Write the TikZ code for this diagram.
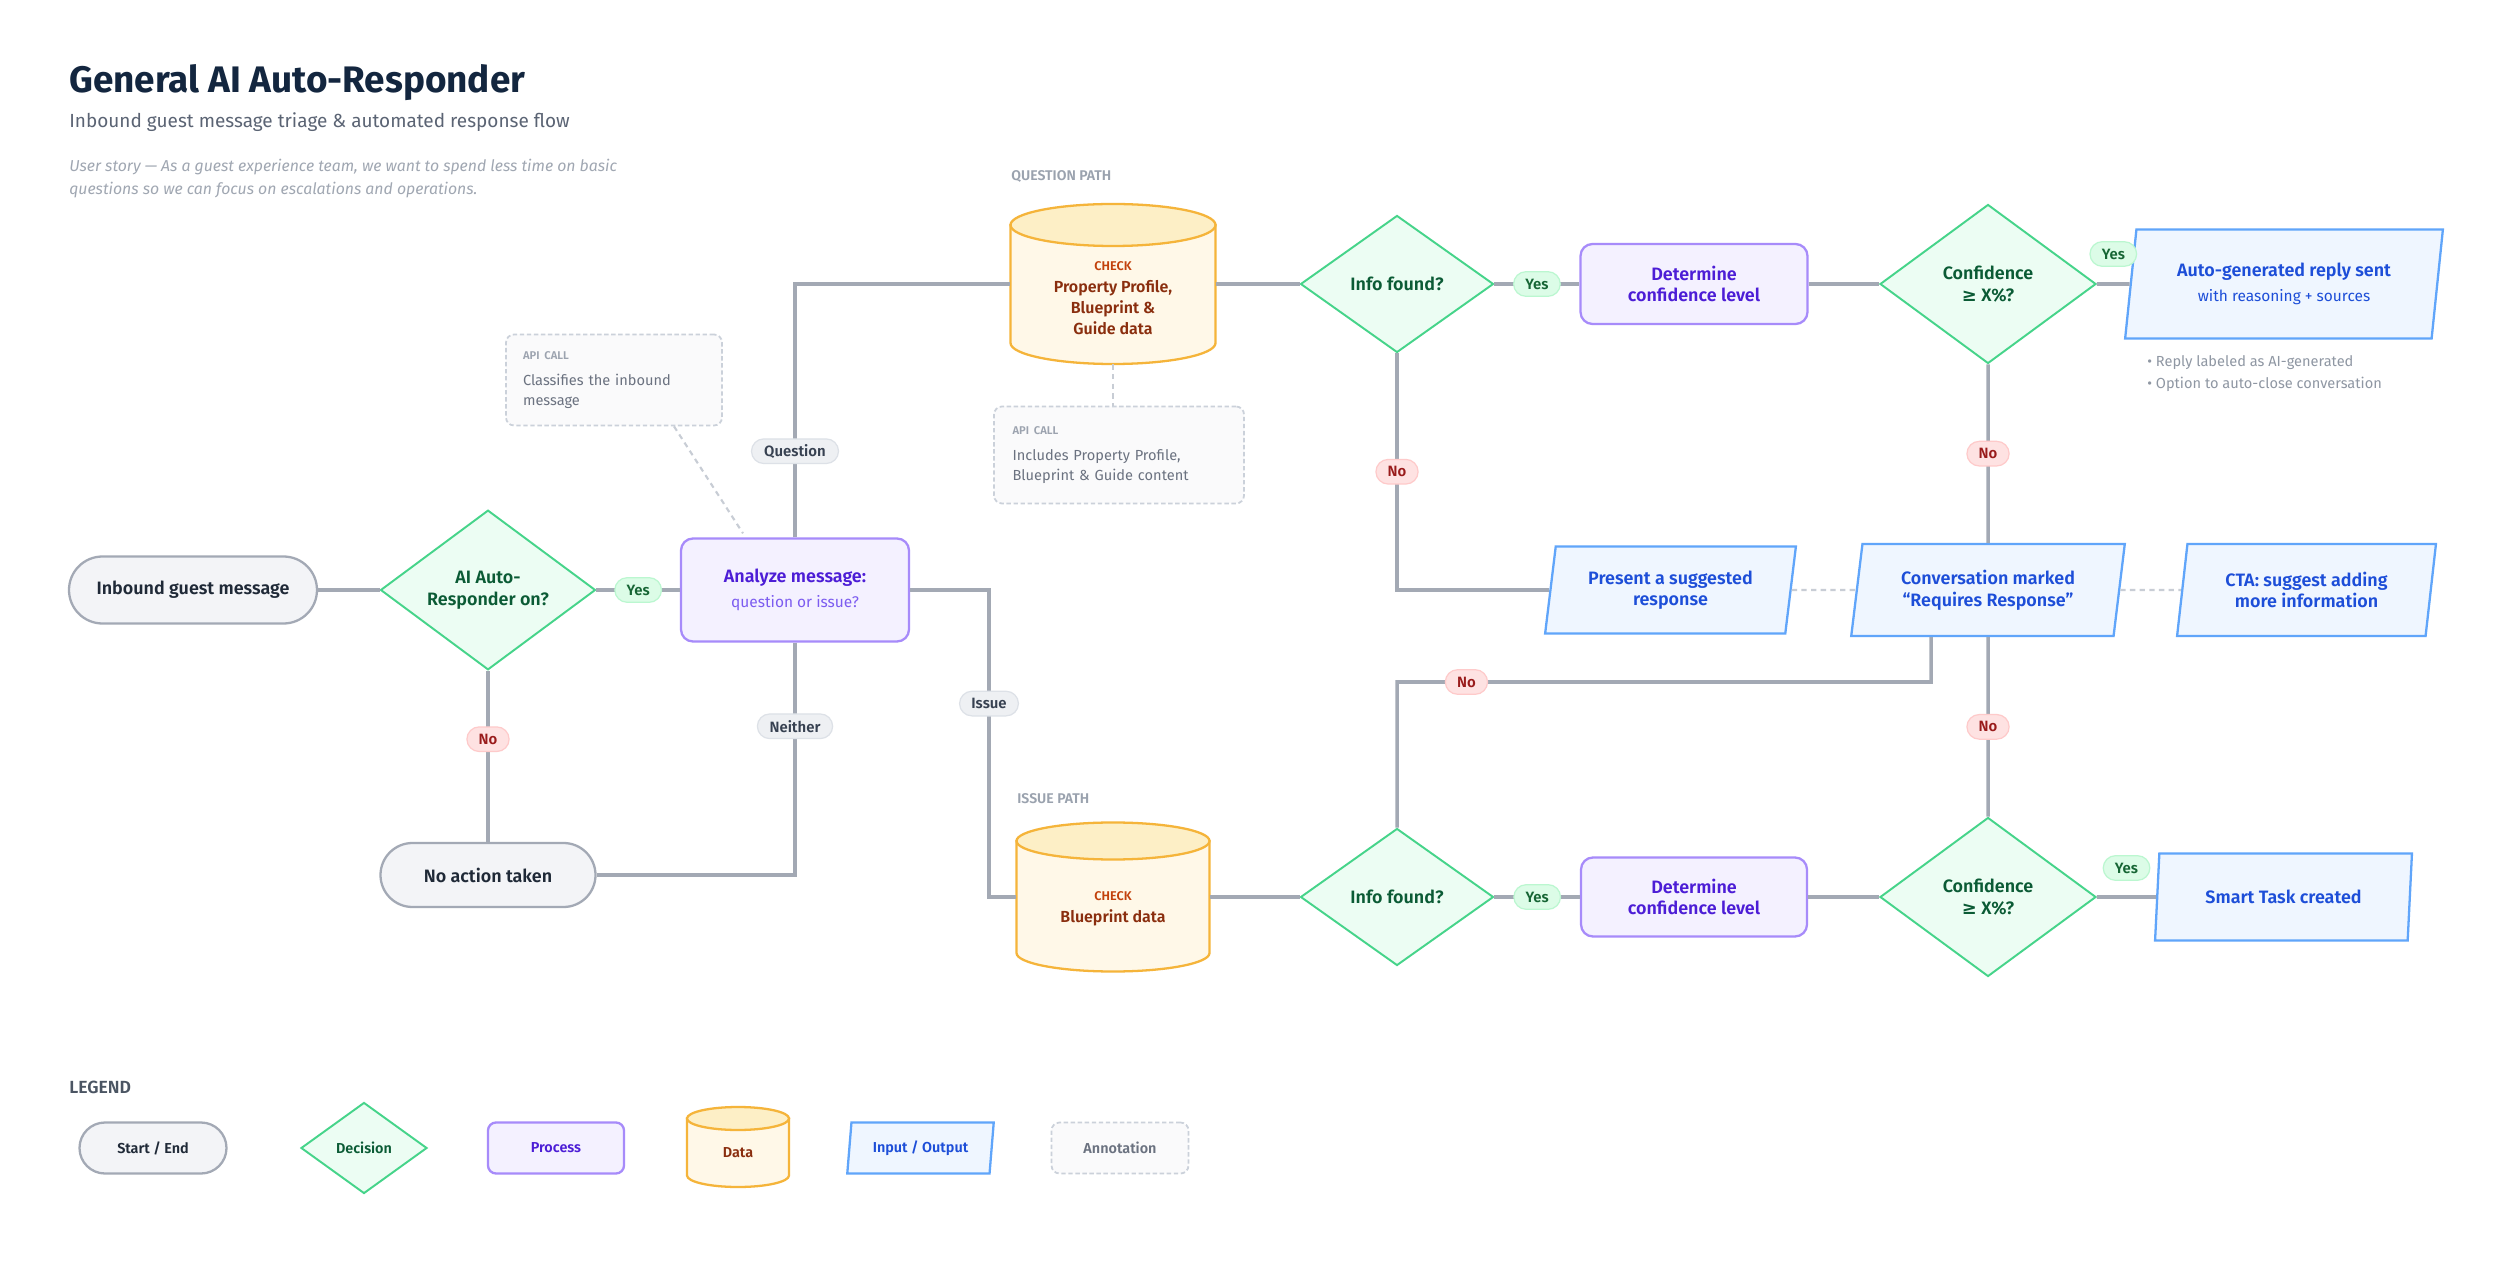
\documentclass[tikz,border=0pt]{standalone}
\usepackage{fontspec}
\setmainfont{Fira Sans}[BoldFont={Fira Sans SemiBold}]
\newfontfamily\titlefont{Fira Sans}[UprightFont={Fira Sans Bold}]
\newfontfamily\geqfont{DejaVu Sans}
\usetikzlibrary{shapes.geometric,shapes.misc}

\definecolor{linegray}{HTML}{A3A9B4}
\definecolor{notegray}{HTML}{C8CDD5}
\definecolor{titlecol}{HTML}{13263F}
\definecolor{subcol}{HTML}{5B6474}
\definecolor{storycol}{HTML}{A0A7B2}
\definecolor{headcol}{HTML}{9AA2AE}
\definecolor{legcol}{HTML}{4B5563}
\definecolor{sefill}{HTML}{F3F4F7}
\definecolor{sebord}{HTML}{A3A9B5}
\definecolor{secol}{HTML}{1F2937}
\definecolor{decfill}{HTML}{ECFDF3}
\definecolor{decbord}{HTML}{46D48A}
\definecolor{deccol}{HTML}{0B5B35}
\definecolor{procfill}{HTML}{F4F1FF}
\definecolor{procbord}{HTML}{A78BFA}
\definecolor{proccol}{HTML}{4C1DD6}
\definecolor{procsub}{HTML}{7C5CF0}
\definecolor{datafill}{HTML}{FFF8E8}
\definecolor{datatop}{HTML}{FDEFC6}
\definecolor{databord}{HTML}{F5B43A}
\definecolor{datacol}{HTML}{8A2E0E}
\definecolor{checkcol}{HTML}{C2410C}
\definecolor{iofill}{HTML}{EFF6FF}
\definecolor{iobord}{HTML}{60A5FA}
\definecolor{iocol}{HTML}{1D4ED8}
\definecolor{annfill}{HTML}{FAFAFB}
\definecolor{annbord}{HTML}{CBD1DA}
\definecolor{anncol}{HTML}{6B7280}
\definecolor{annhead}{HTML}{9CA3AF}
\definecolor{notecol}{HTML}{8F97A3}
\definecolor{yesfill}{HTML}{DCFCE7}
\definecolor{yesbord}{HTML}{BBF7D0}
\definecolor{yescol}{HTML}{166534}
\definecolor{nofill}{HTML}{FEE2E2}
\definecolor{nobord}{HTML}{FECACA}
\definecolor{nocol}{HTML}{991B1B}
\definecolor{brfill}{HTML}{EEF0F3}
\definecolor{brbord}{HTML}{DDE1E7}
\definecolor{brcol}{HTML}{374151}

\newcommand\nodefont{\bfseries\fontsize{10.2}{12.3}\selectfont}
\newcommand\subfont{\mdseries\fontsize{8.8}{10}\selectfont}
\newcommand\smallfont{\fontsize{8.3}{11.4}\selectfont}
\newcommand\legendfont{\bfseries\fontsize{8.2}{9}\selectfont}
\newcommand\pillfont{\bfseries\fontsize{8.5}{10}\selectfont}
\newcommand\apihead{{\color{annhead}\bfseries\fontsize{6.4}{9}\selectfont API CALL}}
\newcommand\checktag{{\color{checkcol}\fontsize{7.2}{9}\selectfont CHECK}}
% data drum: centre x, centre y, half width, half height, end radius
\newcommand\datadrum[5]{%
  \filldraw[draw=databord, fill=datafill, line width=1.3pt]
    (#1-#3,#2+#4-#5) -- (#1-#3,#2-#4+#5)
    arc[start angle=180, end angle=360, x radius=#3cm, y radius=#5cm]
    -- (#1+#3,#2+#4-#5) -- cycle;
  \filldraw[draw=databord, fill=datatop, line width=1.3pt]
    (#1,#2+#4-#5) ellipse[x radius=#3cm, y radius=#5cm];
}

\tikzset{
  link/.style={draw=linegray, line width=2pt},
  notelink/.style={draw=notegray, line width=1.2pt, dash pattern=on 3pt off 2.5pt},
  startend/.style={rounded rectangle, draw=sebord, fill=sefill, line width=1.3pt,
    text=secol, inner sep=0pt},
  decision/.style={diamond, draw=decbord, fill=decfill, line width=1.1pt,
    text=deccol, align=center, inner sep=0pt},
  process/.style={rectangle, rounded corners=0.24cm, draw=procbord, fill=procfill,
    line width=1.3pt, text=proccol, align=center},
  datastore/.style={rectangle, inner sep=0pt},
  datatext/.style={text=datacol, align=center, inner sep=0pt,
    font=\bfseries\fontsize{9.1}{11.7}\selectfont},
  inout/.style={trapezium, trapezium left angle=79, trapezium right angle=101,
    trapezium stretches=true, draw=iobord, fill=iofill, line width=1.3pt,
    text=iocol, align=center, inner sep=0pt},
  annot/.style={rectangle, rounded corners=0.16cm, draw=annbord, fill=annfill,
    line width=1pt, dash pattern=on 2.5pt off 1.5pt, text=anncol, align=left,
    font=\smallfont},
  pill/.style={rounded rectangle, minimum height=14pt, inner xsep=6pt, inner ysep=0pt,
    line width=0.7pt, font=\pillfont},
  yespill/.style={pill, fill=yesfill, draw=yesbord, text=yescol},
  nopill/.style={pill, fill=nofill, draw=nobord, text=nocol},
  branchpill/.style={pill, fill=brfill, draw=brbord, text=brcol},
  pathhead/.style={anchor=base west, inner sep=0pt, text=headcol,
    font=\bfseries\fontsize{8}{9}\selectfont},
}

\begin{document}
\begin{tikzpicture}[font=\nodefont]
		% canvas
		\fill[white] (0,0) rectangle (50,25.68);
		\useasboundingbox (0,0) rectangle (50,25.68);
		% header
		\node[anchor=base west, inner sep=0pt, text=titlecol,
		  font=\titlefont\fontsize{21}{24}\selectfont] (title) at (1.38,23.82) {General AI Auto-Responder};
		\node[anchor=base west, inner sep=0pt, text=subcol,
		  font=\fontsize{10.8}{12}\selectfont] (subtitle) at (1.38,23.12) {Inbound guest message triage \& automated response flow};
		\node[anchor=base west, inner sep=0pt, text=storycol,
		  font=\itshape\fontsize{9}{10}\selectfont] (story1) at (1.38,22.24) {User story --- As a guest experience team, we want to spend less time on basic};
		\node[anchor=base west, inner sep=0pt, text=storycol,
		  font=\itshape\fontsize{9}{10}\selectfont] (story2) at (1.38,21.78) {questions so we can focus on escalations and operations.};
		% entry row
		\node[startend, minimum width=4.96cm, minimum height=1.34cm] (inbound) at (3.86,13.88) {Inbound guest message};
		\node[decision, minimum width=4.3cm, minimum height=3.18cm] (aion) at (9.76,13.88) {AI Auto-\\Responder on?};
		\node[process, minimum width=4.56cm, minimum height=2.06cm] (analyze) at (15.9,13.88)
		  {Analyze message:\\[2pt]{\subfont\color{procsub}question or issue?}};
		\node[startend, minimum width=4.3cm, minimum height=1.28cm] (noaction) at (9.76,8.18) {No action taken};
		\node[annot, minimum height=1.82cm, inner xsep=0.34cm, text width=3.64cm] (annot1) at (12.28,18.08)
		  {\apihead\\[3pt]Classifies the inbound\\message};
		% question path
		\node[pathhead] (qhead) at (20.22,22.06) {QUESTION PATH};
		\datadrum{22.26}{20.0}{2.05}{1.6}{0.42}
		\node[datastore, minimum width=4.1cm, minimum height=3.2cm] (cylQ) at (22.26,20.0) {};
		\node[datatext] (cylQtext) at (22.26,19.72) {\checktag\\[1pt]Property Profile,\\Blueprint \&\\Guide data};
		\node[annot, minimum height=1.94cm, inner xsep=0.37cm, text width=4.26cm] (annot2) at (22.38,16.58)
		  {\apihead\\[3pt]Includes Property Profile,\\Blueprint \& Guide content};
		\node[decision, minimum width=3.86cm, minimum height=2.74cm] (infoQ) at (27.94,20.0) {Info found?};
		\node[process, minimum width=4.54cm, minimum height=1.6cm] (detQ) at (33.88,20.0) {Determine\\confidence level};
		\node[decision, minimum width=4.32cm, minimum height=3.18cm] (confQ) at (39.76,20.0) {Confidence\\{\geqfont ≥} X\%?};
		\node[inout, minimum width=6.36cm, minimum height=2.18cm] (autoreply) at (45.68,20.0)
		  {Auto-generated reply sent\\[2pt]{\subfont with reasoning + sources}};
		\node[anchor=base west, inner sep=0pt, text=notecol, font=\smallfont] (note1) at (42.94,18.34) {• Reply labeled as AI-generated};
		\node[anchor=base west, inner sep=0pt, text=notecol, font=\smallfont] (note2) at (42.94,17.9) {• Option to auto-close conversation};
		% middle row
		\node[inout, minimum width=5.02cm, minimum height=1.74cm] (present) at (33.41,13.88) {Present a suggested\\response};
		\node[inout, minimum width=5.48cm, minimum height=1.84cm] (convmarked) at (39.76,13.88) {Conversation marked\\“Requires Response”};
		\node[inout, minimum width=5.22cm, minimum height=1.84cm] (cta) at (46.13,13.88) {CTA: suggest adding\\more information};
		% issue path
		\node[pathhead] (ihead) at (20.34,9.6) {ISSUE PATH};
		\datadrum{22.26}{7.74}{1.93}{1.49}{0.37}
		\node[datastore, minimum width=3.86cm, minimum height=2.98cm] (cylI) at (22.26,7.74) {};
		\node[datatext] (cylItext) at (22.26,7.5) {\checktag\\[1pt]Blueprint data};
		\node[decision, minimum width=3.86cm, minimum height=2.74cm] (infoI) at (27.94,7.74) {Info found?};
		\node[process, minimum width=4.52cm, minimum height=1.58cm] (detI) at (33.88,7.74) {Determine\\confidence level};
		\node[decision, minimum width=4.32cm, minimum height=3.18cm] (confI) at (39.76,7.74) {Confidence\\{\geqfont ≥} X\%?};
		\node[inout, minimum width=5.18cm, minimum height=1.74cm] (smarttask) at (45.67,7.74) {Smart Task created};
		% connectors
		\draw[link] (inbound.east) -- (aion.west);
		\draw[link] (aion.east) -- node[yespill] (yes1) {Yes} (analyze.west);
		\draw[link] (aion.south) -- node[nopill, pos=0.4] (no1) {No} (noaction.north);
		\draw[link] (analyze.north) |- node[branchpill, pos=0.17] (quest) {Question} (cylQ.west);
		\draw[link] (analyze.south) |- node[branchpill, pos=0.18] (neither) {Neither} (noaction.east);
		\draw[link] (analyze.east) -- (19.78,13.88) -- node[branchpill, pos=0.37] (issue) {Issue} (19.78,7.74) -- (cylI.west);
		\draw[link] (cylQ.east) -- (infoQ.west);
		\draw[link] (infoQ.east) -- node[yespill] (yes2) {Yes} (detQ.west);
		\draw[link] (detQ.east) -- (confQ.west);
		\draw[link] (confQ.east) -- node[yespill, yshift=0.6cm] (yes3) {Yes} (autoreply.west);
		\draw[link] (confQ.south) -- node[nopill] (no3) {No} (convmarked.north);
		\draw[link] (infoQ.south) |- node[nopill, pos=0.25] (no2) {No} (present.west);
		\draw[link] (cylI.east) -- (infoI.west);
		\draw[link] (infoI.east) -- node[yespill] (yes4) {Yes} (detI.west);
		\draw[link] (detI.east) -- (confI.west);
		\draw[link] (confI.east) -- node[yespill, yshift=0.58cm] (yes5) {Yes} (smarttask.west);
		\draw[link] (confI.north) -- node[nopill] (no5) {No} (convmarked.south);
		\draw[link] (infoI.north) |- node[nopill, pos=0.565] (no4) {No} (38.62,12.04) -- ([xshift=-1.14cm]convmarked.south);
		% dashed links
		\draw[notelink] (present.east) -- (convmarked.west);
		\draw[notelink] (convmarked.east) -- (cta.west);
		\draw[notelink] ([xshift=1.2cm]annot1.south) -- ([xshift=-1.04cm,yshift=0.08cm]analyze.north);
		\draw[notelink] (cylQ.south) -- (cylQ.south |- annot2.north);
		% legend
		\node[anchor=base west, inner sep=0pt, text=legcol,
		  font=\bfseries\fontsize{10}{11}\selectfont] (legend) at (1.38,3.82) {LEGEND};
		\node[startend, minimum width=2.94cm, minimum height=1.02cm, font=\legendfont] (lgstart) at (3.06,2.72) {Start / End};
		\node[decision, minimum width=2.52cm, minimum height=1.82cm, font=\legendfont] (lgdec) at (7.28,2.72) {Decision};
		\node[process, minimum width=2.72cm, minimum height=1.02cm, rounded corners=0.16cm, font=\legendfont] (lgproc) at (11.12,2.72) {Process};
		\datadrum{14.76}{2.74}{1.02}{0.8}{0.23}
		\node[datastore, minimum width=2.04cm, minimum height=1.6cm, text=datacol, font=\legendfont] (lgdata) at (14.76,2.62) {Data};
		\node[inout, minimum width=2.94cm, minimum height=1.02cm, font=\legendfont] (lgio) at (18.41,2.72) {Input / Output};
		\node[annot, minimum width=2.74cm, minimum height=1.02cm, align=center, font=\legendfont] (lgann) at (22.4,2.72) {Annotation};
	\end{tikzpicture}
\end{document}
